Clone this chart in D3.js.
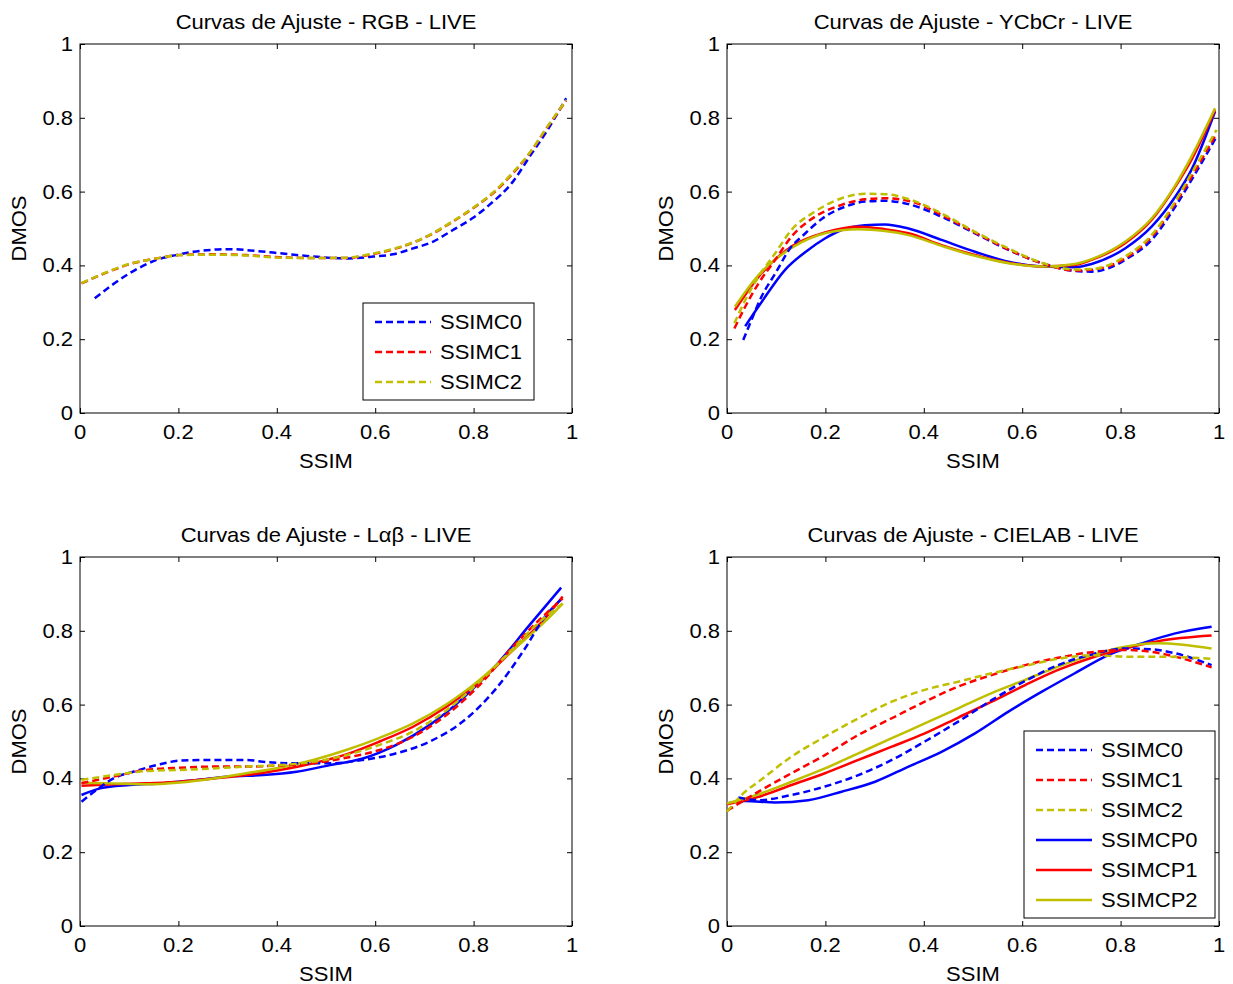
<!DOCTYPE html>
<html><head><meta charset="utf-8">
<script src="https://cdn.jsdelivr.net/npm/d3@7"></script>
<style>body{margin:0;background:#fff}svg{display:block}text{font-family:Arial,"Liberation Sans",sans-serif;fill:#000}</style>
</head><body>
<script>
// ---------- data ----------
const ticks = [0, 0.2, 0.4, 0.6, 0.8, 1];
const tickLabels = ["0", "0.2", "0.4", "0.6", "0.8", "1"];
const titles = ["Curvas de Ajuste - RGB - LIVE", "Curvas de Ajuste - YCbCr - LIVE", "Curvas de Ajuste - L\u03b1\u03b2 - LIVE", "Curvas de Ajuste - CIELAB - LIVE"];
const xLabel = "SSIM", yLabel = "DMOS";
const seriesNames = ["SSIMC0", "SSIMC1", "SSIMC2", "SSIMCP0", "SSIMCP1", "SSIMCP2"];
const seriesColors = ["#0000ff", "#ff0000", "#bfbf00", "#0000ff", "#ff0000", "#bfbf00"];
const seriesDashed = [true, true, true, false, false, false];

// RGB - LIVE
const rgb_C0 = [[0.030,0.311],[0.10,0.378],[0.156,0.415],[0.203,0.430],[0.23,0.437],[0.305,0.444],[0.359,0.439],[0.406,0.433],[0.474,0.424],[0.541,0.419],[0.596,0.424],[0.636,0.43],[0.677,0.446],[0.717,0.464],[0.758,0.496],[0.799,0.529],[0.832,0.564],[0.88,0.627],[0.914,0.695],[0.948,0.762],[0.988,0.853]];
const rgb_C1 = [[0.003,0.351],[0.068,0.388],[0.10,0.403],[0.156,0.419],[0.203,0.428],[0.271,0.430],[0.338,0.428],[0.406,0.422],[0.474,0.42],[0.541,0.42],[0.596,0.431],[0.643,0.446],[0.711,0.482],[0.758,0.519],[0.799,0.555],[0.839,0.595],[0.88,0.65],[0.914,0.704],[0.948,0.771],[0.988,0.846]];
const rgb_C2 = [[0.003,0.352],[0.068,0.389],[0.10,0.404],[0.156,0.419],[0.203,0.428],[0.271,0.429],[0.338,0.427],[0.406,0.421],[0.474,0.42],[0.541,0.421],[0.596,0.432],[0.643,0.447],[0.711,0.483],[0.758,0.52],[0.799,0.556],[0.839,0.597],[0.88,0.652],[0.914,0.705],[0.948,0.772],[0.988,0.848]];

// YCbCr - LIVE
const ycc_C0 = [[0.033,0.198],[0.047,0.243],[0.07,0.315],[0.098,0.378],[0.131,0.451],[0.152,0.478],[0.199,0.532],[0.24,0.559],[0.28,0.573],[0.321,0.575],[0.369,0.566],[0.436,0.532],[0.504,0.487],[0.572,0.442],[0.64,0.406],[0.707,0.385],[0.741,0.383],[0.775,0.392],[0.809,0.415],[0.863,0.469],[0.911,0.559],[0.944,0.631],[0.995,0.749]];
const ycc_C1 = [[0.015,0.229],[0.037,0.288],[0.064,0.351],[0.098,0.415],[0.131,0.478],[0.179,0.532],[0.233,0.564],[0.28,0.579],[0.321,0.582],[0.375,0.573],[0.436,0.537],[0.504,0.489],[0.572,0.443],[0.64,0.406],[0.707,0.386],[0.741,0.388],[0.809,0.419],[0.863,0.478],[0.911,0.568],[0.944,0.64],[0.995,0.758]];
const ycc_C2 = [[0.015,0.243],[0.037,0.306],[0.064,0.369],[0.098,0.433],[0.131,0.496],[0.179,0.546],[0.233,0.582],[0.28,0.594],[0.321,0.593],[0.375,0.577],[0.436,0.541],[0.504,0.491],[0.572,0.446],[0.64,0.407],[0.707,0.389],[0.741,0.39],[0.809,0.424],[0.863,0.482],[0.911,0.573],[0.944,0.649],[0.995,0.767]];
const ycc_CP0 = [[0.037,0.235],[0.07,0.30],[0.118,0.388],[0.165,0.442],[0.199,0.473],[0.233,0.496],[0.28,0.509],[0.321,0.511],[0.369,0.5],[0.436,0.469],[0.504,0.437],[0.572,0.41],[0.64,0.397],[0.707,0.395],[0.741,0.404],[0.809,0.446],[0.863,0.505],[0.911,0.586],[0.944,0.659],[0.992,0.817]];
const ycc_CP1 = [[0.016,0.279],[0.064,0.369],[0.131,0.451],[0.199,0.489],[0.267,0.505],[0.321,0.498],[0.369,0.487],[0.436,0.455],[0.504,0.428],[0.572,0.407],[0.64,0.397],[0.707,0.401],[0.741,0.415],[0.809,0.46],[0.863,0.523],[0.911,0.613],[0.944,0.686],[0.992,0.821]];
const ycc_CP2 = [[0.016,0.288],[0.064,0.374],[0.131,0.447],[0.199,0.487],[0.267,0.498],[0.321,0.493],[0.369,0.482],[0.436,0.453],[0.504,0.426],[0.572,0.406],[0.64,0.397],[0.707,0.404],[0.741,0.417],[0.809,0.464],[0.863,0.527],[0.911,0.617],[0.944,0.695],[0.992,0.826]];

// Lab (L alpha beta) - LIVE
const lab_C0 = [[0.003,0.337],[0.034,0.369],[0.068,0.40],[0.108,0.418],[0.156,0.436],[0.203,0.448],[0.271,0.45],[0.338,0.45],[0.379,0.444],[0.44,0.441],[0.508,0.441],[0.575,0.45],[0.643,0.468],[0.711,0.5],[0.778,0.554],[0.846,0.644],[0.9,0.743],[0.948,0.843],[0.978,0.885]];
const lab_C1 = [[0.003,0.387],[0.068,0.405],[0.135,0.423],[0.203,0.429],[0.271,0.432],[0.338,0.432],[0.406,0.435],[0.474,0.441],[0.541,0.456],[0.609,0.477],[0.677,0.513],[0.745,0.572],[0.812,0.653],[0.88,0.757],[0.934,0.83],[0.981,0.888]];
const lab_C2 = [[0.003,0.396],[0.068,0.409],[0.135,0.42],[0.203,0.423],[0.271,0.427],[0.338,0.432],[0.406,0.436],[0.474,0.445],[0.541,0.463],[0.609,0.491],[0.677,0.527],[0.745,0.585],[0.812,0.662],[0.88,0.752],[0.92,0.807],[0.981,0.874]];
const lab_CP0 = [[0.003,0.355],[0.041,0.373],[0.101,0.382],[0.169,0.387],[0.237,0.396],[0.305,0.405],[0.372,0.409],[0.44,0.418],[0.508,0.436],[0.575,0.454],[0.643,0.491],[0.711,0.545],[0.778,0.617],[0.846,0.707],[0.914,0.816],[0.978,0.917]];
const lab_CP1 = [[0.003,0.38],[0.068,0.384],[0.135,0.387],[0.203,0.391],[0.271,0.4],[0.338,0.409],[0.406,0.423],[0.474,0.441],[0.541,0.465],[0.609,0.5],[0.677,0.54],[0.745,0.594],[0.812,0.662],[0.88,0.748],[0.948,0.838],[0.981,0.893]];
const lab_CP2 = [[0.003,0.388],[0.068,0.386],[0.135,0.384],[0.203,0.389],[0.271,0.4],[0.338,0.414],[0.406,0.429],[0.474,0.45],[0.541,0.477],[0.609,0.51],[0.677,0.549],[0.745,0.601],[0.812,0.667],[0.88,0.748],[0.948,0.829],[0.981,0.874]];

// CIELAB - LIVE
const cie_C0 = [[0.023,0.348],[0.064,0.341],[0.131,0.355],[0.199,0.378],[0.267,0.409],[0.335,0.45],[0.402,0.5],[0.47,0.554],[0.538,0.612],[0.606,0.664],[0.673,0.707],[0.741,0.736],[0.809,0.752],[0.863,0.75],[0.911,0.739],[0.985,0.707]];
const cie_C1 = [[0.0,0.312],[0.064,0.364],[0.131,0.414],[0.199,0.463],[0.267,0.518],[0.335,0.563],[0.402,0.608],[0.47,0.649],[0.538,0.68],[0.606,0.707],[0.673,0.727],[0.741,0.742],[0.809,0.748],[0.863,0.743],[0.911,0.73],[0.985,0.701]];
const cie_C2 = [[0.0,0.31],[0.037,0.364],[0.064,0.391],[0.131,0.459],[0.199,0.513],[0.267,0.563],[0.335,0.608],[0.402,0.64],[0.47,0.662],[0.538,0.685],[0.606,0.705],[0.673,0.724],[0.741,0.734],[0.809,0.73],[0.877,0.73],[0.985,0.724]];
const cie_CP0 = [[0.0,0.332],[0.037,0.339],[0.098,0.335],[0.165,0.341],[0.233,0.364],[0.301,0.391],[0.369,0.432],[0.436,0.472],[0.504,0.522],[0.572,0.581],[0.64,0.635],[0.707,0.685],[0.775,0.734],[0.843,0.766],[0.911,0.793],[0.985,0.811]];
const cie_CP1 = [[0.0,0.33],[0.064,0.35],[0.131,0.382],[0.199,0.414],[0.267,0.45],[0.335,0.486],[0.402,0.522],[0.47,0.565],[0.538,0.608],[0.606,0.653],[0.673,0.694],[0.741,0.727],[0.809,0.752],[0.877,0.772],[0.985,0.787]];
const cie_CP2 = [[0.0,0.332],[0.064,0.357],[0.131,0.391],[0.199,0.427],[0.267,0.468],[0.335,0.509],[0.402,0.549],[0.47,0.59],[0.538,0.631],[0.606,0.667],[0.673,0.703],[0.741,0.734],[0.809,0.757],[0.877,0.766],[0.985,0.752]];

const panelSeries = [
  [rgb_C0, rgb_C1, rgb_C2],
  [ycc_C0, ycc_C1, ycc_C2, ycc_CP0, ycc_CP1, ycc_CP2],
  [lab_C0, lab_C1, lab_C2, lab_CP0, lab_CP1, lab_CP2],
  [cie_C0, cie_C1, cie_C2, cie_CP0, cie_CP1, cie_CP2]
];

// ---------- layout ----------
const W = 1233, H = 984;
const panels = [
  {x0: 80, x1: 572, y0: 413, y1: 44},
  {x0: 727, x1: 1219, y0: 413, y1: 44},
  {x0: 80, x1: 572, y0: 926, y1: 557},
  {x0: 727, x1: 1219, y0: 926, y1: 557}
];
const legends = [
  {panel: 0, x: 363, y: 303, w: 171, h: 97, n: 3},
  {panel: 3, x: 1024, y: 731, w: 191, h: 187, n: 6}
];
const FS = 20, SX = 1.1;

const svg = d3.select("body").append("svg").attr("width", W).attr("height", H);

function txt(g, x, y, s, anchor, rot) {
  return g.append("text")
    .attr("transform", `translate(${x},${y})` + (rot ? ` rotate(${rot})` : "") + ` scale(${SX},1)`)
    .attr("text-anchor", anchor || "start")
    .attr("font-size", FS)
    .text(s);
}

panels.forEach((p, i) => {
  const g = svg.append("g");
  const x = d3.scaleLinear().domain([0, 1]).range([p.x0, p.x1]);
  const y = d3.scaleLinear().domain([0, 1]).range([p.y0, p.y1]);

  g.append("rect").attr("x", p.x0).attr("y", p.y1).attr("width", p.x1 - p.x0).attr("height", p.y0 - p.y1)
    .attr("fill", "#fff").attr("stroke", "#000").attr("stroke-width", 1);

  const axB = g.append("g").attr("transform", `translate(0,${p.y0})`)
    .call(d3.axisBottom(x).tickValues(ticks).tickSize(-5).tickFormat(""));
  const axT = g.append("g").attr("transform", `translate(0,${p.y1})`)
    .call(d3.axisTop(x).tickValues(ticks).tickSize(-5).tickFormat(""));
  const axL = g.append("g").attr("transform", `translate(${p.x0},0)`)
    .call(d3.axisLeft(y).tickValues(ticks).tickSize(-5).tickFormat(""));
  const axR = g.append("g").attr("transform", `translate(${p.x1},0)`)
    .call(d3.axisRight(y).tickValues(ticks).tickSize(-5).tickFormat(""));
  [axB, axT, axL, axR].forEach(a => { a.select(".domain").remove(); a.selectAll("line").attr("stroke", "#000"); });

  ticks.forEach((t, k) => {
    txt(g, x(t), p.y0 + 26, tickLabels[k], "middle");
    txt(g, p.x0 - 7, y(t) + 7, tickLabels[k], "end");
  });

  txt(g, (p.x0 + p.x1) / 2, p.y0 + 55, xLabel, "middle");
  txt(g, p.x0 - 54, (p.y0 + p.y1) / 2, yLabel, "middle", -90);
  txt(g, (p.x0 + p.x1) / 2, p.y1 - 15, titles[i], "middle");

  const line = d3.line().x(d => x(d[0])).y(d => y(d[1])).curve(d3.curveMonotoneX);
  const order = [3, 4, 5, 0, 1, 2];
  order.forEach(s => {
    const data = panelSeries[i][s];
    if (!data) return;
    g.append("path").attr("d", line(data)).attr("fill", "none")
      .attr("stroke", seriesColors[s]).attr("stroke-width", 2.5)
      .attr("stroke-dasharray", seriesDashed[s] ? "7,4" : null);
  });
});

legends.forEach(L => {
  const g = svg.append("g");
  g.append("rect").attr("x", L.x).attr("y", L.y).attr("width", L.w).attr("height", L.h)
    .attr("fill", "#fff").attr("stroke", "#000").attr("stroke-width", 1);
  for (let k = 0; k < L.n; k++) {
    const cy = L.y + 19 + k * 30;
    g.append("line").attr("x1", L.x + 12).attr("x2", L.x + 68).attr("y1", cy).attr("y2", cy)
      .attr("stroke", seriesColors[k]).attr("stroke-width", 2.5)
      .attr("stroke-dasharray", seriesDashed[k] ? "7,4" : null);
    txt(g, L.x + 77, cy + 7, seriesNames[k], "start");
  }
});
</script>
</body></html>
